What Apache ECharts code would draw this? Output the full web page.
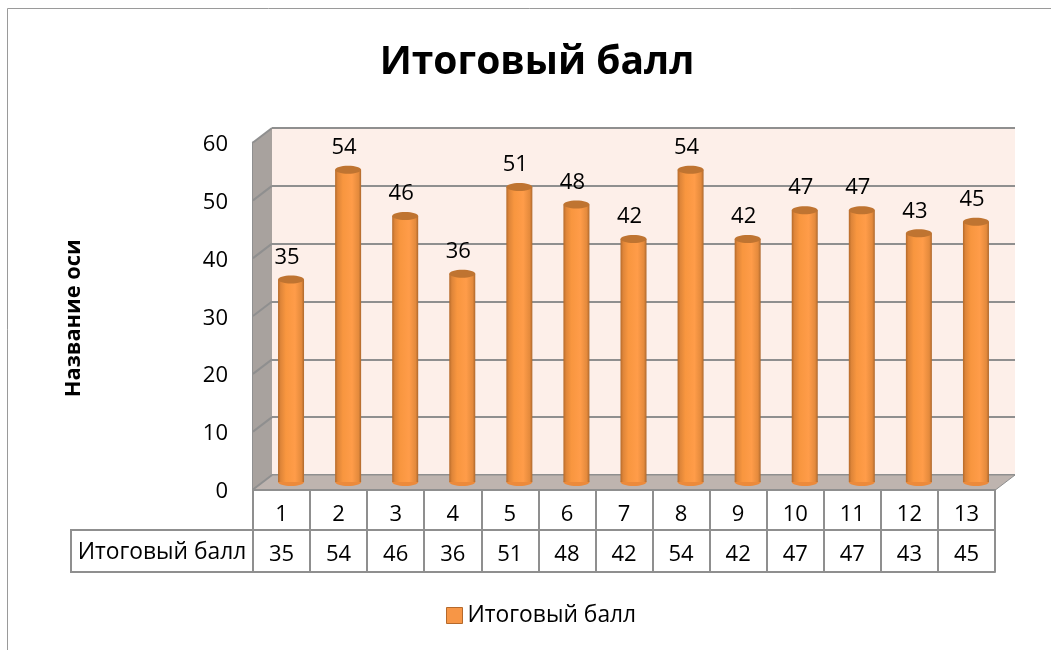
<!DOCTYPE html>
<html><head><meta charset="utf-8">
<style>html,body{margin:0;padding:0;background:#fff}#c{width:1051px;height:650px}</style>
<script src="https://cdn.jsdelivr.net/npm/echarts@6/dist/echarts.min.js"></script>
</head><body><div id="c"></div>
<script>
const categories = ['1','2','3','4','5','6','7','8','9','10','11','12','13'];
const values = [35,54,46,36,51,48,42,54,42,47,47,43,45];
const ticks = [0,10,20,30,40,50,60];
const seriesName = 'Итоговый балл';
const titleText = 'Итоговый балл';
const axisName = 'Название оси';

const FONT = '"Open Sans", sans-serif';
const GREY = '#8f8f8f';
const DX = 19, DY = 14.5;

const chart = echarts.init(document.getElementById('c'), null, {renderer:'canvas'});
const hiddenCat = {type:'category', show:false, data:categories};
const hiddenVal = {type:'value', show:false, min:0, max:60, interval:10, splitLine:{show:false}};

chart.setOption({
  animation:false,
  backgroundColor:'#fff',
  title:{text:titleText, left:532, top:38, textAlign:'center',
    textStyle:{fontFamily:FONT, fontSize:39, fontWeight:'bold', color:'#000'}},
  legend:{data:[seriesName], left:441, top:599, selectedMode:false, itemWidth:16, itemHeight:16, itemGap:6, icon:'rect',
    itemStyle:{color:'#F79646', borderColor:'#B5692B', borderWidth:1},
    textStyle:{fontFamily:FONT, fontSize:22.8, color:'#000'}},
  grid:[
    {left:272, top:128, width:743, height:347, show:true, backgroundColor:'#FDEFE9', borderWidth:0},
    {left:262.5, top:135, width:742, height:347, show:false},
    {left:253, top:142.5, width:742, height:347.5, show:false},
    {left:253, top:144.5, width:742, height:347.5, show:false}
  ],
  xAxis:[
    Object.assign({gridIndex:0}, hiddenCat),
    Object.assign({gridIndex:1}, hiddenCat),
    {gridIndex:2, type:'category', data:categories, position:'bottom',
      axisLine:{show:true, lineStyle:{color:GREY, width:2}},
      axisTick:{show:true, length:82, lineStyle:{color:GREY, width:2}},
      axisLabel:{fontFamily:FONT, fontSize:22, color:'#000', margin:14}},
    {gridIndex:2, type:'category', data:values.map(String), position:'bottom', offset:40,
      axisLine:{show:true, lineStyle:{color:GREY, width:2}},
      axisTick:{show:false},
      axisLabel:{fontFamily:FONT, fontSize:22, color:'#000', margin:14}},
    {gridIndex:2, type:'category', data:categories, position:'bottom', offset:82,
      axisLine:{show:true, lineStyle:{color:GREY, width:2}},
      axisTick:{show:false}, axisLabel:{show:false}},
    Object.assign({gridIndex:3}, hiddenCat)
  ],
  yAxis:[
    {gridIndex:0, type:'value', min:0, max:60, interval:10, axisLine:{show:false}, axisTick:{show:false}, axisLabel:{show:false},
      splitLine:{show:true, lineStyle:{color:GREY, width:2}}},
    Object.assign({gridIndex:1}, hiddenVal),
    {gridIndex:2, type:'value', min:0, max:60, interval:10, axisLabel:{show:false}, axisTick:{show:false}, splitLine:{show:false},
      axisLine:{show:true, lineStyle:{color:GREY, width:2}}},
    {gridIndex:3, type:'value', min:0, max:60, interval:10,
      axisLine:{show:false},
      axisTick:{show:false}, splitLine:{show:false},
      axisLabel:{fontFamily:FONT, fontSize:22, color:'#000', margin:25},
      name:axisName, nameLocation:'middle', nameGap:168,
      nameTextStyle:{fontFamily:FONT, fontSize:21.8, fontWeight:'bold', color:'#000'}}
  ],
  graphic:[
    {type:'polyline', silent:true, z:0, shape:{points:[[7.5,650],[7.5,8.5],[1051,8.5]]}, style:{stroke:'#9a9a9a', lineWidth:1, fill:null}},
    {type:'polyline', silent:true, z:5, shape:{points:[[253,530],[71,530],[71,572],[253,572]]}, style:{stroke:GREY, lineWidth:2, fill:null}},
    {type:'text', silent:true, z:6, x:162, y:553, style:{text:seriesName, fontFamily:FONT, fontSize:22.8, fill:'#000', align:'center', verticalAlign:'middle'}}
  ],
  series:[
    {type:'custom', name:'walls', xAxisIndex:0, yAxisIndex:0, z:1, silent:true, clip:false,
      data:ticks,
      encode:{y:0},
      renderItem:function(params, api){
        const v = api.value(0);
        const x0 = params.coordSys.x;
        const x1 = x0 + params.coordSys.width;
        const y = api.coord([0, v])[1];
        const children = [];
        if (v === 0){
          const top = api.coord([0, 60])[1];
          children.push({type:'polygon', shape:{points:[[x0,top],[x0,y],[x0-DX,y+DY],[x0-DX,top+DY]]},
            style:{fill:'#A8A29E'}});
          children.push({type:'polygon', shape:{points:[[x0,y],[x1,y],[x1-DX,y+DY],[x0-DX,y+DY]]},
            style:{fill:'#BEB4AF', stroke:GREY, lineWidth:1}});
        }
        children.push({type:'line', shape:{x1:x0,y1:y,x2:x0-DX,y2:y+DY}, style:{stroke:GREY, lineWidth:2}});
        return {type:'group', children:children};
      }},
    {type:'custom', name:seriesName, xAxisIndex:1, yAxisIndex:1, z:3, silent:true, clip:false,
      itemStyle:{color:'#F79646'},
      data:values.map((v,i)=>[i,v]),
      encode:{x:0,y:1},
      renderItem:function(params, api){
        const i = api.value(0), v = api.value(1);
        const top = api.coord([i, v]);
        const base = api.coord([i, 0]);
        const rx = 13, ry = 4;
        const grad = new echarts.graphic.LinearGradient(0,0,1,0,[
          {offset:0,color:'#B56A2A'},{offset:0.1,color:'#DE8539'},{offset:0.3,color:'#F8963F'},
          {offset:0.65,color:'#FF9C49'},{offset:0.9,color:'#E48A3C'},{offset:1,color:'#AD682D'}]);
        return {type:'group', children:[
          {type:'ellipse', shape:{cx:top[0],cy:base[1],rx:rx,ry:ry}, style:{fill:'#EC8A3B'}},
          {type:'rect', shape:{x:top[0]-rx,y:top[1],width:rx*2,height:base[1]-top[1]}, style:{fill:grad}},
          {type:'ellipse', shape:{cx:top[0],cy:top[1],rx:rx,ry:ry}, style:{fill:'#BF7431'}},
          {type:'text', x:top[0]-4, y:top[1]-22, style:{text:String(v), fontFamily:FONT, fontSize:22, fill:'#000', align:'center', verticalAlign:'middle'}}
        ]};
      }}
  ]
});
</script></body></html>
